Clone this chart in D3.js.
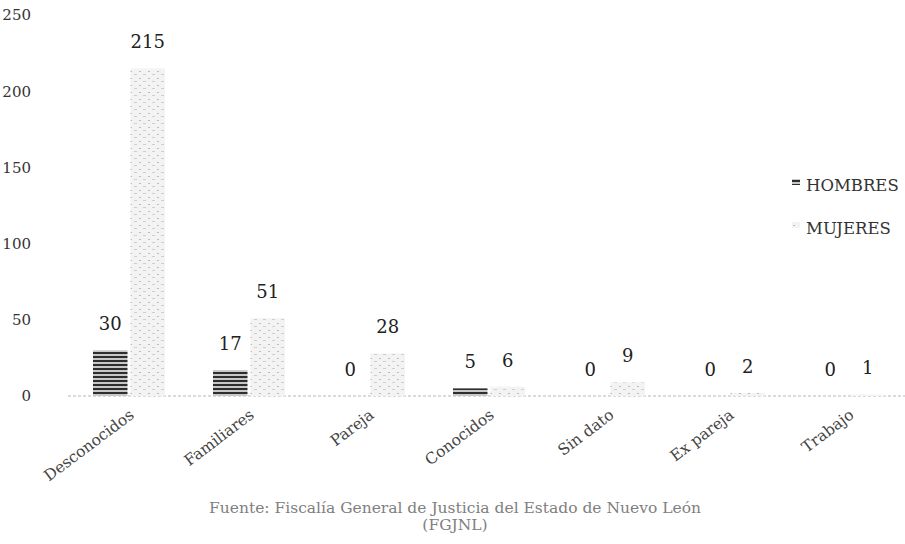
<!DOCTYPE html>
<html>
<head>
<meta charset="utf-8">
<script src="https://cdn.jsdelivr.net/npm/d3@7"></script>
<style>
  html, body { margin: 0; padding: 0; background: #fff; }
  svg { display: block; }
  text { font-family: "DejaVu Serif", "Liberation Serif", serif; }
</style>
</head>
<body>
<svg id="chart" width="905" height="544"></svg>
<script>
const categories = ["Desconocidos", "Familiares", "Pareja", "Conocidos", "Sin dato", "Ex pareja", "Trabajo"];
const hombres = [30, 17, 0, 5, 0, 0, 0];
const mujeres = [215, 51, 28, 6, 9, 2, 1];
const seriesNames = ["HOMBRES", "MUJERES"];
const yTicks = [0, 50, 100, 150, 200, 250];
const sourceLines = ["Fuente: Fiscalía General de Justicia del Estado de Nuevo León", "(FGJNL)"];

const svg = d3.select("#chart");
const defs = svg.append("defs");

// striped pattern for HOMBRES
const pH = defs.append("pattern").attr("id", "patH").attr("patternUnits", "userSpaceOnUse")
  .attr("width", 8).attr("height", 4);
pH.append("rect").attr("width", 8).attr("height", 4).attr("fill", "#c8c8c8");
pH.append("rect").attr("width", 8).attr("height", 2).attr("fill", "#2e2e2e");

// speckled pattern for MUJERES
const pM = defs.append("pattern").attr("id", "patM").attr("patternUnits", "userSpaceOnUse")
  .attr("width", 9).attr("height", 7);
pM.append("rect").attr("width", 9).attr("height", 7).attr("fill", "#f3f3f3");
pM.append("rect").attr("x", 1).attr("y", 1).attr("width", 2).attr("height", 1).attr("fill", "#bdbdbd");
pM.append("rect").attr("x", 5).attr("y", 4).attr("width", 3).attr("height", 1).attr("fill", "#cfcfcf");

const y = d3.scaleLinear().domain([0, 250]).range([396, 15]);
const x0 = d3.scaleBand().domain(categories).range([69, 909]).paddingInner(0.4).paddingOuter(0.2);
const x1 = d3.scaleBand().domain(seriesNames).range([0, x0.bandwidth()]).paddingInner(0.08);

const data = categories.map((c, i) => ({ cat: c, vals: [
  { s: "HOMBRES", v: hombres[i] }, { s: "MUJERES", v: mujeres[i] }] }));

// y axis labels
const yAxis = d3.axisLeft(y).tickValues(yTicks).tickSize(0).tickPadding(0);
const gy = svg.append("g").attr("transform", "translate(31,0)").call(yAxis);
gy.select(".domain").remove();
gy.selectAll("text").attr("font-size", 15).attr("fill", "#333")
  .attr("font-family", "DejaVu Serif, Liberation Serif, serif");

// baseline
svg.append("line").attr("x1", 68).attr("x2", 905).attr("y1", y(0)).attr("y2", y(0))
  .attr("stroke", "#cfcfcf").attr("stroke-width", 1.5).attr("stroke-dasharray", "3,2");

const fills = { HOMBRES: "url(#patH)", MUJERES: "url(#patM)" };

const groups = svg.append("g").selectAll("g").data(data).join("g")
  .attr("transform", d => `translate(${x0(d.cat)},0)`);

groups.selectAll("rect").data(d => d.vals).join("rect")
  .attr("x", d => x1(d.s))
  .attr("width", x1.bandwidth())
  .attr("y", d => y(d.v))
  .attr("height", d => y(0) - y(d.v))
  .attr("fill", d => fills[d.s]);

groups.selectAll("text.val").data(d => d.vals).join("text")
  .attr("class", "val")
  .attr("x", d => x1(d.s) + x1.bandwidth() / 2)
  .attr("y", d => y(d.v) - 20)
  .attr("text-anchor", "middle")
  .attr("font-size", 18)
  .attr("fill", "#222")
  .text(d => d.v);

// x axis category labels
const xAxis = d3.axisBottom(x0).tickSize(0).tickPadding(0);
const gx = svg.append("g").attr("transform", `translate(0,${y(0)})`).call(xAxis);
gx.select(".domain").remove();
gx.selectAll("text")
  .attr("font-family", "DejaVu Serif, Liberation Serif, serif")
  .attr("font-size", 15.5).attr("fill", "#444")
  .attr("text-anchor", "end")
  .attr("dy", 0).attr("y", 0)
  .attr("transform", "translate(6,21) rotate(-37)");

// legend
const legend = svg.append("g");
const legendY = [185, 228];
seriesNames.forEach((s, i) => {
  legend.append("rect").attr("x", 792).attr("y", legendY[i] - 6).attr("width", 8).attr("height", 6)
    .attr("fill", fills[s]);
  legend.append("text").attr("x", 806).attr("y", legendY[i]).attr("dy", "0.35em")
    .attr("font-size", 16.5).attr("fill", "#333").text(s);
});

// source
svg.append("g").selectAll("text").data(sourceLines).join("text")
  .attr("x", 455).attr("y", (d, i) => 513 + i * 17)
  .attr("text-anchor", "middle").attr("font-size", 15.5).attr("fill", "#808080")
  .text(d => d);
</script>
</body>
</html>
